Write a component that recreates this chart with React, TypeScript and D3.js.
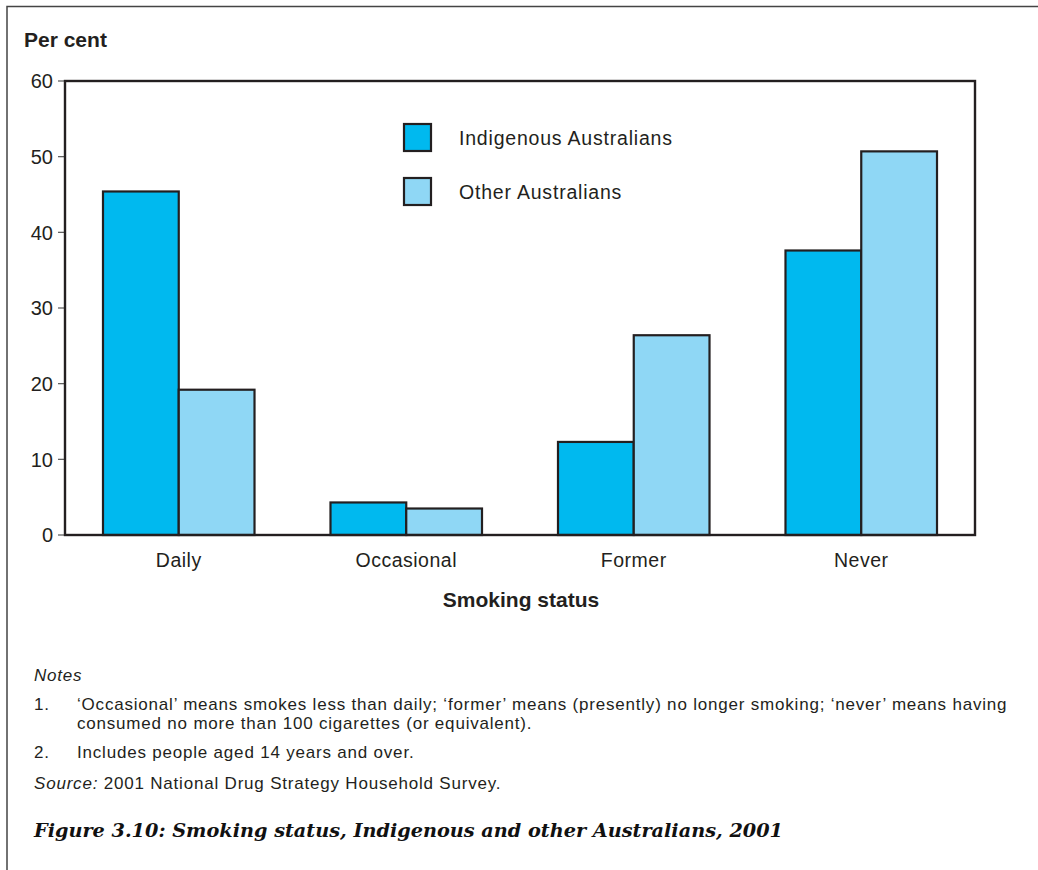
import React from "react";
import * as d3 from "d3";

// Smoking status by group, per cent
const categories = ["Daily", "Occasional", "Former", "Never"];
const seriesNames = ["Indigenous Australians", "Other Australians"];
const indigenousValues = [45.4, 4.3, 12.3, 37.6];
const otherValues = [19.2, 3.5, 26.4, 50.7];
const yTicks = [0, 10, 20, 30, 40, 50, 60];
const seriesColors = ["#00b9ef", "#8fd7f5"];

const noteLines = [
  "\u2018Occasional\u2019 means smokes less than daily; \u2018former\u2019 means (presently) no longer smoking; \u2018never\u2019 means having",
  "consumed no more than 100 cigarettes (or equivalent).",
];
const note2 = "Includes people aged 14 years and over.";
const sourceText = "2001 National Drug Strategy Household Survey.";
const caption = "Figure 3.10: Smoking status, Indigenous and other Australians, 2001";

const W = 1038;
const H = 870;
const plot = { left: 65, right: 975, top: 81, bottom: 535 };
const sans = "'Liberation Sans', Arial, sans-serif";
const ink = "#231f20";
const noteSize = 17;
const noteSpacing = 0.8;

export default function App() {
  const x0 = d3
    .scaleBand<string>()
    .domain(categories)
    .range([plot.left, plot.right])
    .paddingInner(0.334)
    .paddingOuter(0.167);
  const x1 = d3
    .scaleBand<number>()
    .domain([0, 1])
    .range([0, x0.bandwidth()])
    .padding(0);
  const y = d3.scaleLinear().domain([0, 60]).range([plot.bottom, plot.top]);

  const rows = categories.map((c, i) => ({
    cat: c,
    vals: [indigenousValues[i], otherValues[i]],
  }));

  return (
    <svg
      width={W}
      height={H}
      style={{ position: "absolute", left: 0, top: 0, background: "#fff" }}
      fontFamily={sans}
    >
      <rect x={0} y={0} width={W} height={H} fill="#fff" />
      {/* outer frame */}
      <path d={`M7,${H} V6.5 H${W}`} fill="none" stroke="#444" strokeWidth={1.5} />

      <text x={24} y={47} fontSize={21} fontWeight="bold" fill={ink}>
        Per cent
      </text>

      {/* y ticks */}
      {yTicks.map((t) => (
        <g key={t}>
          <line x1={58} x2={plot.left} y1={y(t)} y2={y(t)} stroke="#555" strokeWidth={1.2} />
          <text x={53} y={y(t)} dy="0.36em" textAnchor="end" fontSize={20} fill={ink}>
            {t}
          </text>
        </g>
      ))}

      {/* bars */}
      {rows.map((r) =>
        r.vals.map((v, j) => (
          <rect
            key={r.cat + j}
            x={(x0(r.cat) as number) + (x1(j) as number)}
            y={y(v)}
            width={x1.bandwidth()}
            height={y(0) - y(v)}
            fill={seriesColors[j]}
            stroke={ink}
            strokeWidth={2.2}
          />
        ))
      )}

      {/* plot frame */}
      <rect
        x={plot.left}
        y={plot.top}
        width={plot.right - plot.left}
        height={plot.bottom - plot.top}
        fill="none"
        stroke={ink}
        strokeWidth={2.4}
      />

      {/* category labels */}
      {categories.map((c) => (
        <text
          key={c}
          x={(x0(c) as number) + x0.bandwidth() / 2}
          y={567}
          textAnchor="middle"
          fontSize={19.5}
          letterSpacing={0.5}
          fill={ink}
        >
          {c}
        </text>
      ))}
      <text x={521} y={607} textAnchor="middle" fontSize={21} fontWeight="bold" fill={ink}>
        Smoking status
      </text>

      {/* legend */}
      {seriesNames.map((s, i) => (
        <g key={s} transform={`translate(404,${124 + i * 54})`}>
          <rect width={27} height={27} fill={seriesColors[i]} stroke={ink} strokeWidth={2.2} />
          <text x={55} y={13.5} dy="0.36em" fontSize={19.5} letterSpacing={0.8} fill={ink}>
            {s}
          </text>
        </g>
      ))}

      {/* notes */}
      <g fontSize={noteSize} letterSpacing={noteSpacing} fill={ink}>
        <text x={34} y={681} fontStyle="italic">
          Notes
        </text>
        <text x={34} y={710}>
          1.
        </text>
        {noteLines.map((l, i) => (
          <text key={i} x={77} y={710 + i * 19}>
            {l}
          </text>
        ))}
        <text x={34} y={758}>
          2.
        </text>
        <text x={77} y={758}>
          {note2}
        </text>
        <text x={34} y={789}>
          <tspan fontStyle="italic">Source:</tspan> {sourceText}
        </text>
      </g>

      <text
        x={34}
        y={837}
        fontSize={19.25}
        fontWeight="bold"
        fontStyle="italic"
        fontFamily="'DejaVu Serif', serif"
        fill="#111"
      >
        {caption}
      </text>
    </svg>
  );
}
